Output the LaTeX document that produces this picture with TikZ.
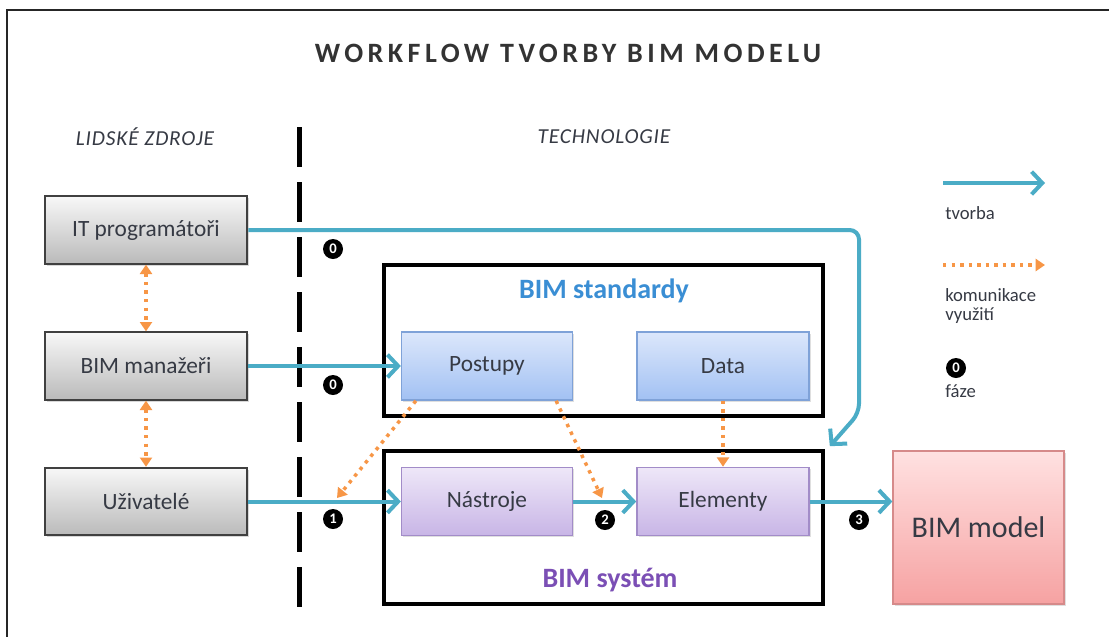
\documentclass[tikz,border=0pt]{standalone}
\usepackage{fontspec}
\setmainfont{Carlito}
\usetikzlibrary{arrows.meta, shadows, calc, positioning}
\definecolor{tvblue}{HTML}{4BACC6}
\definecolor{komorange}{HTML}{F79646}
\definecolor{txtgray}{HTML}{363A44}
\definecolor{stdblue}{HTML}{3A8ED4}
\definecolor{syspurple}{HTML}{7B4FB5}
\definecolor{stdtop}{HTML}{DCE7FB}
\definecolor{stdbot}{HTML}{A2C1F3}
\definecolor{stdline}{HTML}{7FA2D8}
\definecolor{systop}{HTML}{EEE7F8}
\definecolor{sysbot}{HTML}{C8B5E6}
\definecolor{sysline}{HTML}{A28CC8}
\definecolor{modtop}{HTML}{FFE1E1}
\definecolor{modbot}{HTML}{F6A2A2}
\definecolor{modline}{HTML}{D68A8A}

\begin{document}
\begin{tikzpicture}[x=0.75pt, y=-0.75pt,
    hbox/.style = {draw=black!75, line width=1.5pt, top color=black!3, bottom color=black!27,
      minimum width=152pt, minimum height=50.5pt, text=txtgray, font=\fontsize{17.5}{20}\selectfont,
      drop shadow={shadow xshift=1.5pt, shadow yshift=-1.5pt, opacity=0.3}},
    sbox/.style = {draw=stdline, line width=1.2pt, top color=stdtop, bottom color=stdbot,
      minimum width=128pt, minimum height=51pt, text=txtgray, font=\fontsize{17.5}{20}\selectfont,
      drop shadow={shadow xshift=1.2pt, shadow yshift=-1.2pt, opacity=0.25}},
    tbox/.style = {sbox, draw=sysline, top color=systop, bottom color=sysbot},
    group/.style = {draw=black, line width=3pt, minimum width=329pt},
    tvorba/.style = {draw=tvblue, line width=3pt, -{Straight Barb[length=8pt, width=17pt]}},
    komu/.style = {draw=komorange, line width=2.6pt, dash pattern=on 2.6pt off 3.8pt,
      >={Triangle[length=7pt, width=9pt]}},
    faze/.style = {circle, fill=black, text=white, inner sep=0pt, minimum size=15pt,
      font=\bfseries\fontsize{11}{11}\selectfont},
    legtext/.style = {anchor=west, inner sep=0pt, text=txtgray, font=\fontsize{14}{15}\selectfont}]
  \clip (0,0) rectangle (1109,636);
  \fill[white] (0,0) rectangle (1109,636);
  \draw[line width=1.5pt, draw=black!85] (7,10) rectangle (1140,660);

  \node[text=black!80, font=\bfseries\fontsize{21}{24}\selectfont\addfontfeatures{LetterSpace=16}] (title) at (568,53) {WORKFLOW TVORBY BIM MODELU};
  \node[text=txtgray, font=\itshape\fontsize{16}{18}\selectfont\addfontfeatures{LetterSpace=4}] (colL) at (145,137) {LIDSKÉ ZDROJE};
  \node[text=txtgray, font=\itshape\fontsize{16}{18}\selectfont\addfontfeatures{LetterSpace=4}] (colT) at (604,137) {TECHNOLOGIE};
  \draw[line width=3.75pt, dash pattern=on 30pt off 11.25pt] (299,127) -- (299,607);

  \foreach \n/\y/\t in {1/230/IT programátoři, 2/366/BIM manažeři, 3/501.5/Uživatelé}
    \node[hbox] (H\n) at (146,\y) {\t};

  \node[group, minimum height=113pt] (STD) at (603.5,340.5) {};
  \node[group, minimum height=114.5pt] (SYS) at (603.5,527.5) {};
  \node[text=stdblue, font=\bfseries\fontsize{21}{24}\selectfont] (STDl) at (604,291) {BIM standardy};
  \node[text=syspurple, font=\bfseries\fontsize{21}{24}\selectfont] (SYSl) at (610,580) {BIM systém};

  \node[sbox] (S1) at (487,366) {Postupy};
  \node[sbox, minimum width=129pt] (S2) at (723,366) {Data};
  \node[tbox] (T1) at (487,501.5) {Nástroje};
  \node[tbox, minimum width=129pt] (T2) at (723,501.5) {Elementy};
  \node[draw=modline, line width=1.2pt, top color=modtop, bottom color=modbot,
    minimum width=128pt, minimum height=114.5pt, text=txtgray, font=\fontsize{22.5}{26}\selectfont,
    drop shadow={shadow xshift=1.5pt, shadow yshift=-1.5pt, opacity=0.25}] (BM) at (978.5,527.5) {BIM model};

  \coordinate (K1) at (337,498);
  \coordinate (K2) at (602,498);

  \draw[tvorba, rounded corners=7pt] (H1.east) -- (859,230) -- (859,413) -- ($(SYS.north east)+(5,-3)$);
  \draw[tvorba] (H2.east) -- (S1.west);
  \draw[tvorba] (H3.east) -- (T1.west);
  \draw[tvorba] (T1) -- (T2);
  \draw[tvorba] (T2.east) -- (T2.east -| BM.west);

  \draw[komu, <->] (H1) -- (H2);
  \draw[komu, <->] (H2) -- (H3);
  \draw[komu, ->] ($(S1.south west)+(15,0)$) -- (K1);
  \draw[komu, ->] ($(S1.south east)+(-17,0)$) -- (K2);
  \draw[komu, ->] (S2) -- (T2);

  \foreach \n/\x/\y/\t in {1/333/249/0, 2/333/385/0, 3/333/519/1, 4/605/520/2, 5/859/520/3, 6/956/368/0}
    \node[faze] (F\n) at (\x,\y) {\t};

  \coordinate (LA1) at (943,183);
  \coordinate (LA2) at (1045,183);
  \coordinate (LB1) at (943,265);
  \coordinate (LB2) at (1045,265);
  \draw[tvorba] (LA1) -- (LA2);
  \draw[komu, ->] (LB1) -- (LB2);
  \node[legtext] (LT1) at (945,213) {tvorba};
  \node[legtext, align=left] (LT2) at (945,306) {komunikace\\[-1pt]využití};
  \node[legtext] (LT3) at (945,391) {fáze};
\end{tikzpicture}
\end{document}
